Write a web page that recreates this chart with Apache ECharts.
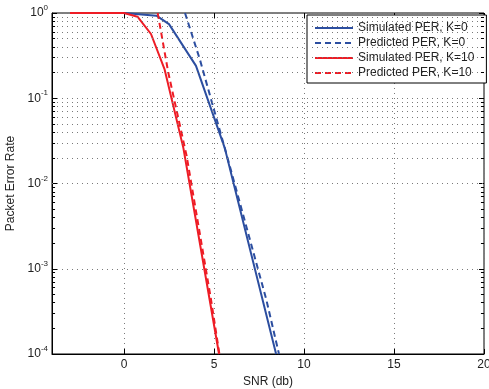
<!DOCTYPE html>
<html><head><meta charset="utf-8">
<script src="https://cdn.jsdelivr.net/npm/echarts@6/dist/echarts.min.js"></script>
<style>html,body{margin:0;padding:0;background:#fff}#c{width:489px;height:389px}</style>
</head><body><div id="c"></div>
<script>
const seriesNames = ['Simulated PER, K=0', 'Predicted PER, K=0', 'Simulated PER, K=10', 'Predicted PER, K=10'];
const snrSimK0  = [-3, 0, 1.8, 2.5, 4.0, 5.6, 8.45];
const perSimK0  = [1, 1, 0.93, 0.74, 0.24, 0.026, 0.0001];
const snrPredK0 = [3.39, 4.22, 5.78, 7.9, 8.61];
const perPredK0 = [1, 0.283, 0.019, 0.00044, 0.0001];
const snrSimK10  = [-3, 0, 0.75, 1.5, 2.25, 3.3, 5.28];
const perSimK10  = [1, 1, 0.905, 0.567, 0.22, 0.026, 0.0001];
const snrPredK10 = [1.87, 2.46, 3.48, 4.83, 5.3];
const perPredK10 = [1, 0.2, 0.021, 0.00044, 0.0001];
const xTickLabels = [0, 5, 10, 15, 20];
const yDecades = [1e-4, 1e-3, 1e-2, 1e-1, 1];
const minorMultipliers = [2, 3, 4, 5, 6, 7, 8, 9];

const BLUE = '#2c4ea0', RED = '#ee1c25';
const FONT = 'Liberation Sans';
const X_MIN = -4, X_MAX = 20;

const minorVals = [];
yDecades.slice(0, -1).forEach(d => minorMultipliers.forEach(m => minorVals.push(d * m)));

function pairs(xs, ys) { return xs.map((x, i) => [x, ys[i]]); }

const gridLine = { color: '#7a7a7a', width: 1, type: [1, 4] };
const tickStyle = { color: '#000', width: 1 };

const chart = echarts.init(document.getElementById('c'), null, { renderer: 'canvas' });
const supLabel = v => {
  const e = Math.round(Math.log10(v));
  return '{b|10}{s|' + e + '}';
};
const option = {
  animation: false,
  textStyle: { fontFamily: FONT },
  grid: { left: 52, right: 5, top: 13, bottom: 35, outerBoundsMode: 'none', containLabel: false,
    show: true, borderColor: '#000', borderWidth: 1, backgroundColor: '#fff' },
  legend: {
    data: seriesNames,
    orient: 'vertical', left: 307, top: 15,
    backgroundColor: '#fff', borderColor: '#000', borderWidth: 1, borderRadius: 0,
    padding: [7, 12, 4, 7],
    itemWidth: 38, itemHeight: 12, itemGap: 3,
    itemStyle: { opacity: 0 },
    textStyle: { fontFamily: FONT, fontSize: 12, color: '#222' }
  },
  xAxis: [{
    type: 'value', min: X_MIN, max: X_MAX, splitNumber: 5,
    name: 'SNR (db)', nameLocation: 'middle', nameGap: 16,
    nameTextStyle: { fontFamily: FONT, fontSize: 12, color: '#222' },
    axisLine: { show: true, onZero: false, lineStyle: { color: '#000', width: 1 } },
    axisTick: { show: true, inside: true, length: 5, lineStyle: tickStyle },
    axisLabel: { fontFamily: FONT, fontSize: 12, color: '#222', margin: 5,
      formatter: v => xTickLabels.indexOf(v) >= 0 ? String(v) : '' },
    splitLine: { show: true, lineStyle: gridLine }
  }, {
    type: 'value', min: X_MIN, max: X_MAX, splitNumber: 5, position: 'top',
    axisLine: { show: false, onZero: false }, axisLabel: { show: false }, splitLine: { show: false },
    axisTick: { show: true, inside: true, length: 5, lineStyle: tickStyle }
  }],
  yAxis: [{
    type: 'log', logBase: 10, min: 1e-4, max: 1, position: 'left',
    name: 'Packet Error Rate', nameLocation: 'middle', nameGap: 32, nameRotate: 90,
    nameTextStyle: { fontFamily: FONT, fontSize: 12, color: '#222' },
    axisLine: { show: true, onZero: false, lineStyle: { color: '#000', width: 1 } },
    axisTick: { show: true, inside: true, length: 5, lineStyle: tickStyle },
    axisLabel: { margin: 4, formatter: supLabel,
      rich: {
        b: { fontFamily: FONT, fontSize: 12, color: '#222', verticalAlign: 'bottom', lineHeight: 12 },
        s: { fontFamily: FONT, fontSize: 8, color: '#222', verticalAlign: 'bottom', lineHeight: 8, padding: [0, 0, 7, 0] }
      } },
    splitLine: { show: true, lineStyle: gridLine }
  }, {
    type: 'log', logBase: 10, min: 1e-4, max: 1, position: 'right',
    axisLine: { show: false, onZero: false }, axisLabel: { show: false }, splitLine: { show: false },
    axisTick: { show: true, inside: true, length: 5, lineStyle: tickStyle }
  }],
  series: [
    {
      name: '_grid', type: 'line', data: [], silent: true, z: 1,
      markLine: {
        silent: true, symbol: ['none', 'none'], label: { show: false }, animation: false,
        lineStyle: gridLine,
        data: minorVals.map(v => ({ yAxis: v }))
          .concat(minorVals.map(v => [{ coord: [X_MIN, v], lineStyle: { type: 'solid', color: '#000' } }, { coord: [X_MIN + 0.17, v] }]))
          .concat(minorVals.map(v => [{ coord: [X_MAX - 0.17, v], lineStyle: { type: 'solid', color: '#000' } }, { coord: [X_MAX, v] }]))
      }
    },
    { name: seriesNames[0], type: 'line', data: pairs(snrSimK0, perSimK0), symbol: 'none', z: 3,
      lineStyle: { color: BLUE, width: 2 }, itemStyle: { color: BLUE } },
    { name: seriesNames[1], type: 'line', data: pairs(snrPredK0, perPredK0), symbol: 'none', z: 3,
      lineStyle: { color: BLUE, width: 2, type: [6, 4] }, itemStyle: { color: BLUE } },
    { name: seriesNames[2], type: 'line', data: pairs(snrSimK10, perSimK10), symbol: 'none', z: 4,
      lineStyle: { color: RED, width: 2 }, itemStyle: { color: RED } },
    { name: seriesNames[3], type: 'line', data: pairs(snrPredK10, perPredK10), symbol: 'none', z: 4,
      lineStyle: { color: RED, width: 2, type: [6, 4] }, itemStyle: { color: RED } }
  ]
};
chart.setOption(option);
</script></body></html>
